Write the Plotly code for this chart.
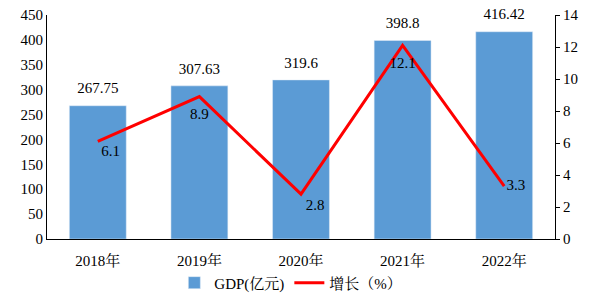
import plotly.graph_objects as go

years = ["2018年", "2019年", "2020年", "2021年", "2022年"]
gdp = [267.75, 307.63, 319.6, 398.8, 416.42]
growth = [6.1, 8.9, 2.8, 12.1, 3.3]
gdp_labels = ["267.75", "307.63", "319.6", "398.8", "416.42"]
growth_labels = ["6.1", "8.9", "2.8", "12.1", "3.3"]
growth_label_pos = ["bottom right", "bottom center", "bottom right", "bottom center", "middle right"]

font_family = "Liberation Serif, Noto Serif CJK SC, Noto Sans CJK SC, serif"

fig = go.Figure()
fig.add_trace(go.Bar(
    x=years, y=gdp, name="GDP(亿元)", marker_color="#5B9BD5", width=0.56,
    cliponaxis=False,
))
# bar value labels (slightly lifted above the bars)
fig.add_trace(go.Scatter(
    x=years, y=gdp, mode="markers+text", showlegend=False, hoverinfo="skip",
    marker=dict(size=12, color="rgba(0,0,0,0)", line=dict(width=0)),
    text=gdp_labels, textposition="top center", textfont=dict(size=15, color="black"),
    cliponaxis=False,
))
fig.add_trace(go.Scatter(
    x=years, y=growth, name="增长（%）", yaxis="y2", mode="lines+markers+text",
    line=dict(color="#FF0000", width=3),
    marker=dict(size=[4, 16, 6, 16, 2], color="rgba(0,0,0,0)",
                line=dict(width=0, color="rgba(0,0,0,0)")),
    text=growth_labels, textposition=growth_label_pos, textfont=dict(size=15, color="black"),
    cliponaxis=False,
))
fig.update_layout(
    width=589, height=308,
    margin=dict(l=47, r=34, t=15, b=69, autoexpand=False),
    plot_bgcolor="white", paper_bgcolor="white",
    font=dict(family=font_family, size=15, color="black"),
    showlegend=True,
    legend=dict(orientation="h", x=0.48, xanchor="center", y=-0.196, yanchor="middle",
                font=dict(size=15)),
    xaxis=dict(showline=True, linecolor="black", linewidth=1, ticks="", showgrid=False,
               ticklabelstandoff=8),
    yaxis=dict(range=[0, 450], dtick=50, showline=True, linecolor="black", linewidth=1,
               ticks="", showgrid=False, zeroline=False),
    yaxis2=dict(range=[0, 14], dtick=2, overlaying="y", side="right", showline=True,
                linecolor="black", linewidth=1, ticks="outside", ticklen=4,
                tickcolor="black", showgrid=False, zeroline=False),
)
fig.write_html("out.html")
